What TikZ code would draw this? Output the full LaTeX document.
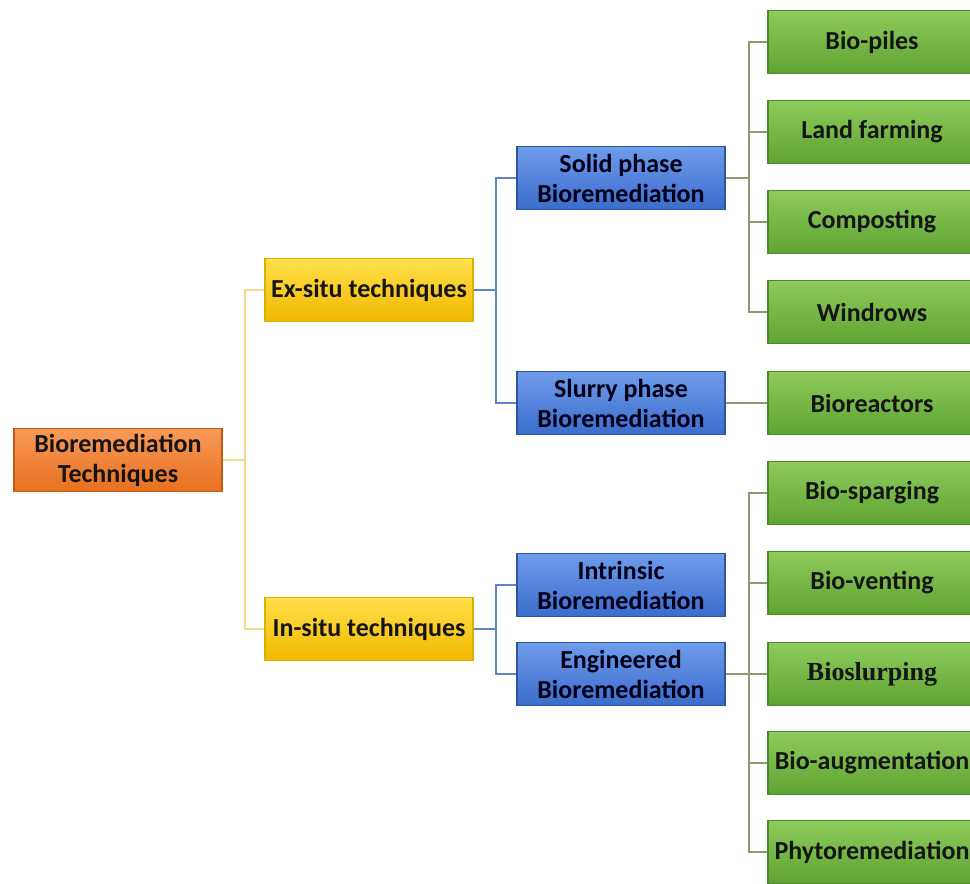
\documentclass[tikz,border=0pt]{standalone}
\usepackage{fontspec}
\setmainfont{Carlito}
\newfontfamily\tnr{Liberation Serif}
\definecolor{orT}{HTML}{F89A58}\definecolor{orB}{HTML}{E8701E}\definecolor{orD}{HTML}{C05A18}
\definecolor{yeT}{HTML}{FFE04A}\definecolor{yeB}{HTML}{F2B800}\definecolor{yeD}{HTML}{DDB000}
\definecolor{blT}{HTML}{6F9CEA}\definecolor{blB}{HTML}{3A6CCB}\definecolor{blD}{HTML}{2E55A0}
\definecolor{grT}{HTML}{8ECC5C}\definecolor{grB}{HTML}{5EA332}\definecolor{grD}{HTML}{4E8A2C}
\definecolor{lnY}{HTML}{F3D98A}\definecolor{lnB}{HTML}{5E82C4}\definecolor{lnG}{HTML}{8E9A70}
\definecolor{txt}{HTML}{151515}
\begin{document}
\begin{tikzpicture}[x=0.75pt,y=-0.75pt,
  box/.style={rectangle,inner sep=0pt,minimum width=156pt,minimum height=47.5pt,align=center,
    font=\fontsize{19.5}{22.5}\selectfont\bfseries,text=txt,line width=0.8pt},
  orbox/.style={box,top color=orT,bottom color=orB,draw=orD},
  yebox/.style={box,top color=yeT,bottom color=yeB,draw=yeD},
  blbox/.style={box,top color=blT,bottom color=blB,draw=blD,text=black!90!blue},
  grbox/.style={box,top color=grT,bottom color=grB,draw=grD},
  lY/.style={draw=lnY,line width=1.5pt},
  lB/.style={draw=lnB,line width=1.5pt},
  lG/.style={draw=lnG,line width=1.5pt}]
\useasboundingbox (0,0) rectangle (970,884);
\begin{scope}
\clip (0,0) rectangle (970,884);
\node[orbox] (root) at (118,460) {Bioremediation\\Techniques};
\node[yebox] (ex) at (369,290) {Ex-situ techniques};
\node[yebox] (in) at (369,629) {In-situ techniques};
\node[blbox] (solid) at (621,178) {Solid phase\\Bioremediation};
\node[blbox] (slurry) at (621,403) {Slurry phase\\Bioremediation};
\node[blbox] (intr) at (621,585) {Intrinsic\\Bioremediation};
\node[blbox] (eng) at (621,674) {Engineered\\Bioremediation};
\node[grbox] (g1) at (872,42) {Bio-piles};
\node[grbox] (g2) at (872,132) {Land farming};
\node[grbox] (g3) at (872,222) {Composting};
\node[grbox] (g4) at (872,312) {Windrows};
\node[grbox] (g5) at (872,403) {Bioreactors};
\node[grbox] (g6) at (872,493) {Bio-sparging};
\node[grbox] (g7) at (872,583) {Bio-venting};
\node[grbox] (g8) at (872,674) {\tnr Bioslurping};
\node[grbox] (g9) at (872,763) {Bio-augmentation};
\node[grbox] (g10) at (872,852) {Phytoremediation};
\draw[lY] (root.east) -- ++(22,0) |- (ex.west);
\draw[lY] (root.east) -- ++(22,0) |- (in.west);
\draw[lB] (ex.east) -- ++(22,0) |- (solid.west);
\draw[lB] (ex.east) -- ++(22,0) |- (slurry.west);
\draw[lB] (in.east) -- ++(22,0) |- (intr.west);
\draw[lB] (in.east) -- ++(22,0) |- (eng.west);
\foreach \g in {g1,g2,g3,g4}{\draw[lG] (solid.east) -- ++(23,0) |- (\g.west);}
\draw[lG] (slurry.east) -- (g5.west);
\foreach \g in {g6,g7,g8,g9,g10}{\draw[lG] (eng.east) -- ++(23,0) |- (\g.west);}
\end{scope}
\end{tikzpicture}
\end{document}
